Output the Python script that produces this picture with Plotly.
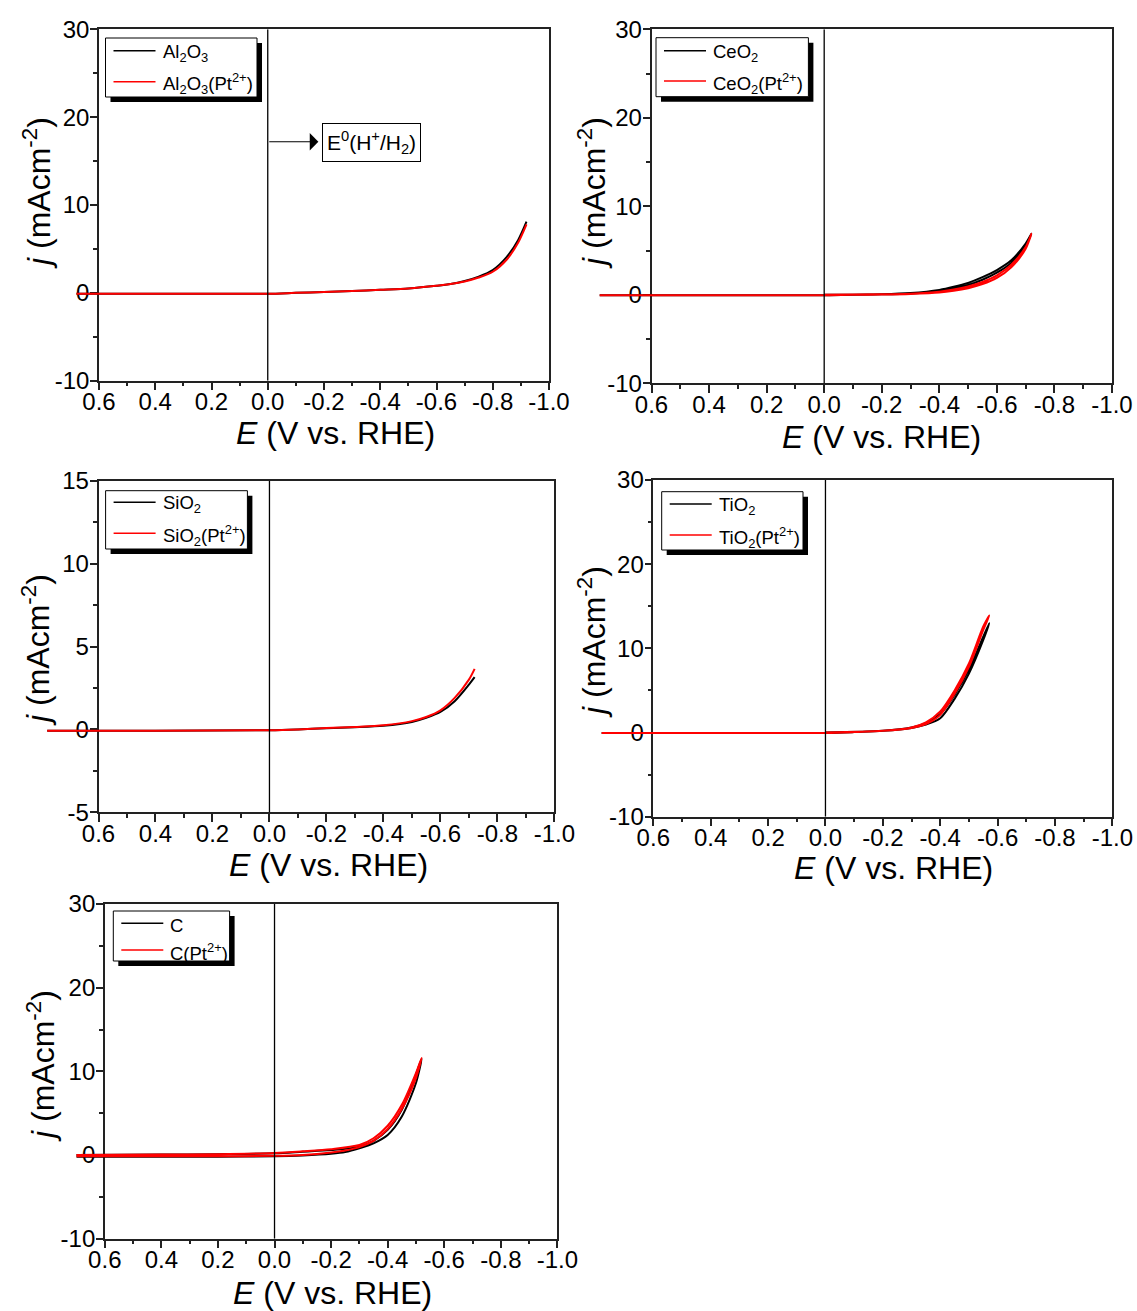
import numpy as np
import plotly.graph_objects as go

W, H = 1137, 1311
FONT = "Liberation Sans, Arial, sans-serif"

# ---------------- data ----------------
X_TICKS = [0.6, 0.4, 0.2, 0.0, -0.2, -0.4, -0.6, -0.8, -1.0]
X_TICK_TEXT = ["0.6", "0.4", "0.2", "0.0", "-0.2", "-0.4", "-0.6", "-0.8", "-1.0"]
Y_TICKS_30 = [-10, 0, 10, 20, 30]
Y_TICK_TEXT_30 = ["-10", "0", "10", "20", "30"]
Y_TICKS_15 = [-5, 0, 5, 10, 15]
Y_TICK_TEXT_15 = ["-5", "0", "5", "10", "15"]

# Al2O3
AL2O3_E = [0.68, 0.4, 0.2, 0.0, -0.1, -0.2, -0.3, -0.4, -0.5, -0.6, -0.65, -0.7, -0.75, -0.8, -0.85, -0.89, -0.92]
AL2O3_J = [-0.1, -0.1, -0.1, -0.1, 0.0, 0.1, 0.2, 0.35, 0.5, 0.8, 1.0, 1.35, 1.85, 2.6, 4.1, 6.0, 8.1]
AL2O3_PT_J = [-0.1, -0.1, -0.1, -0.1, 0.0, 0.1, 0.2, 0.35, 0.5, 0.8, 1.0, 1.3, 1.75, 2.4, 3.8, 5.7, 7.8]

# CeO2 (forward + return sweep)
CEO2_E = [0.78, 0.4, 0.0, -0.1, -0.2, -0.3, -0.4, -0.45, -0.5, -0.55, -0.6, -0.65, -0.7, -0.72,
          -0.7, -0.65, -0.6, -0.55, -0.5, -0.45, -0.4, -0.3, -0.2, 0.0]
CEO2_J = [-0.05, -0.05, -0.05, 0.0, 0.05, 0.15, 0.4, 0.7, 1.1, 1.7, 2.5, 3.6, 5.6, 6.9,
          5.8, 3.9, 2.8, 2.0, 1.35, 0.9, 0.55, 0.2, 0.07, 0.0]
CEO2_PT_J = [-0.05, -0.05, -0.05, 0.0, 0.03, 0.1, 0.25, 0.45, 0.75, 1.2, 1.9, 3.1, 5.2, 6.9,
             5.4, 3.4, 2.2, 1.45, 0.95, 0.6, 0.35, 0.13, 0.05, 0.0]

# SiO2
SIO2_E = [0.78, 0.4, 0.0, -0.1, -0.2, -0.3, -0.4, -0.5, -0.55, -0.6, -0.65, -0.7, -0.72]
SIO2_J = [-0.08, -0.08, -0.05, 0.0, 0.07, 0.13, 0.22, 0.45, 0.7, 1.05, 1.7, 2.7, 3.15]
SIO2_PT_J = [-0.08, -0.08, -0.05, 0.0, 0.08, 0.15, 0.25, 0.5, 0.75, 1.15, 1.9, 3.0, 3.65]

# TiO2 (forward + return sweep)
TIO2_E = [0.78, 0.4, 0.0, -0.1, -0.2, -0.3, -0.35, -0.4, -0.45, -0.5, -0.55, -0.571,
          -0.55, -0.5, -0.45, -0.4, -0.35, -0.3, -0.2, 0.0]
TIO2_J = [-0.05, -0.05, -0.05, 0.05, 0.2, 0.55, 0.95, 1.7, 4.0, 7.0, 11.0, 13.0,
          11.4, 7.5, 4.5, 2.2, 1.1, 0.6, 0.2, 0.0]
TIO2_PT_J = [-0.05, -0.05, -0.05, 0.05, 0.2, 0.55, 1.0, 2.1, 4.6, 7.8, 12.2, 13.9,
             12.6, 8.2, 5.0, 2.5, 1.2, 0.6, 0.2, 0.0]

# C (forward + return sweep)
C_E = [0.7, 0.4, 0.2, 0.0, -0.1, -0.2, -0.25, -0.3, -0.35, -0.4, -0.45, -0.5, -0.52,
       -0.5, -0.45, -0.4, -0.35, -0.3, -0.2, -0.1, 0.0, 0.2, 0.4, 0.7]
C_J = [-0.2, -0.2, -0.2, -0.15, -0.05, 0.15, 0.35, 0.8, 1.4, 2.4, 4.6, 8.6, 11.5,
       9.6, 5.4, 3.0, 1.7, 1.0, 0.6, 0.4, 0.2, 0.1, 0.05, 0.0]
C_PT_J = [-0.15, -0.15, -0.15, -0.1, 0.0, 0.3, 0.55, 0.95, 1.7, 3.1, 5.5, 9.2, 11.6,
          9.8, 6.0, 3.5, 2.0, 1.2, 0.7, 0.45, 0.25, 0.1, 0.05, 0.0]

NAMES = [
    ("Al<sub>2</sub>O<sub>3</sub>", "Al<sub>2</sub>O<sub>3</sub>(Pt<sup>2+</sup>)"),
    ("CeO<sub>2</sub>", "CeO<sub>2</sub>(Pt<sup>2+</sup>)"),
    ("SiO<sub>2</sub>", "SiO<sub>2</sub>(Pt<sup>2+</sup>)"),
    ("TiO<sub>2</sub>", "TiO<sub>2</sub>(Pt<sup>2+</sup>)"),
    ("C", "C(Pt<sup>2+</sup>)"),
]
SERIES = [
    (AL2O3_E, AL2O3_J, AL2O3_PT_J),
    (CEO2_E, CEO2_J, CEO2_PT_J),
    (SIO2_E, SIO2_J, SIO2_PT_J),
    (TIO2_E, TIO2_J, TIO2_PT_J),
    (C_E, C_J, C_PT_J),
]
YTICKS = [
    (Y_TICKS_30, Y_TICK_TEXT_30),
    (Y_TICKS_30, Y_TICK_TEXT_30),
    (Y_TICKS_15, Y_TICK_TEXT_15),
    (Y_TICKS_30, Y_TICK_TEXT_30),
    (Y_TICKS_30, Y_TICK_TEXT_30),
]
X_TITLE = "<i>E</i> (V vs. RHE)"
Y_TITLE = "<i>j</i> (mAcm<sup>-2</sup>)"
E0_LABEL = "E<sup>0</sup>(H<sup>+</sup>/H<sub>2</sub>)"

# ---------------- layout geometry (pixels) ----------------
BOX = [  # left, right, top, bottom
    (99, 549, 29.3, 380.7),
    (651.5, 1112, 29.3, 383.3),
    (98.5, 554.4, 480.7, 812.3),
    (653.3, 1112.4, 480, 816.7),
    (104.8, 557.4, 904, 1238.7),
]
LEG = [  # legend box left, right, top, bottom
    (105.5, 257, 38, 97),
    (656, 808.4, 37.7, 96.7),
    (105.6, 247.4, 490.7, 549),
    (661.7, 803, 491.7, 550),
    (113.3, 229.6, 911, 961),
]
LEG_ROWS = [(12.7, 43.7), (13, 43.3), (11.6, 42.6), (12.3, 43.3), (12.3, 39)]
XTITLE_POS = [(335, 433), (882, 437), (328, 865), (893, 868), (332, 1293)]
YTITLE_POS = [(37, 193), (592, 193), (36, 650), (592, 642), (41, 1066)]
EXT = 60  # px the data layer extends left of the axis

AX_COLOR = "#222222"
X_MIN, X_MAX = 0.6, -1.0


def fx(p):
    return p / W


def fy(p):
    return 1 - p / H


fig = go.Figure()
layout = dict(
    width=W, height=H, margin=dict(l=0, r=0, t=0, b=0),
    paper_bgcolor="white", plot_bgcolor="rgba(0,0,0,0)",
    font=dict(family=FONT, color="black"),
    showlegend=False,
)
shapes = []
annotations = []

for i in range(5):
    n = i + 1
    d = n + 5
    left, right, top, bottom = BOX[i]
    ppu = (right - left) / (X_MIN - X_MAX)
    yt, ytt = YTICKS[i]
    yr = [yt[0], yt[-1]]
    ystep = yt[1] - yt[0]

    xs = "" if n == 1 else str(n)
    ds = str(d)

    # visible axes
    layout["xaxis" + xs] = dict(
        domain=[fx(left), fx(right)], range=[X_MIN, X_MAX], anchor="y" + xs,
        tickmode="array", tickvals=X_TICKS, ticktext=X_TICK_TEXT,
        ticks="outside", ticklen=8, tickwidth=1.5, tickcolor=AX_COLOR,
        ticklabelstandoff=-9,
        minor=dict(tickvals=list(np.round(np.arange(-0.9, 0.6, 0.2), 2)), ticks="outside",
                   ticklen=4, tickwidth=1.5, tickcolor=AX_COLOR),
        showline=True, linecolor=AX_COLOR, linewidth=1.5, mirror=True,
        showgrid=False, zeroline=False,
        tickfont=dict(size=24, family=FONT, color="black"),
        automargin=False,
    )
    layout["yaxis" + xs] = dict(
        domain=[fy(bottom), fy(top)], range=yr, anchor="x" + xs,
        tickmode="array", tickvals=yt, ticktext=ytt,
        ticks="outside", ticklen=7, tickwidth=1.5, tickcolor=AX_COLOR,
        ticklabelstandoff=-4,
        minor=dict(tickvals=[v + ystep / 2 for v in yt[:-1]], ticks="outside",
                   ticklen=4, tickwidth=1.5, tickcolor=AX_COLOR),
        showline=True, linecolor=AX_COLOR, linewidth=1.5, mirror=True,
        showgrid=False, zeroline=False,
        tickfont=dict(size=24, family=FONT, color="black"),
        automargin=False,
    )
    # data layer axes (same scale, extended left so curves run past the frame)
    layout["xaxis" + ds] = dict(
        domain=[fx(left - EXT), fx(right)], range=[X_MIN + EXT / ppu, X_MAX],
        anchor="y" + ds, visible=False, showgrid=False, zeroline=False,
    )
    layout["yaxis" + ds] = dict(
        domain=[fy(bottom), fy(top)], range=yr, anchor="x" + ds,
        visible=False, showgrid=False, zeroline=False,
    )

    E, J0, J1 = SERIES[i]
    for J, col, nm in ((J0, "black", NAMES[i][0]), (J1, "#ff0000", NAMES[i][1])):
        fig.add_trace(go.Scatter(
            x=E, y=J, mode="lines", name=nm,
            line=dict(color=col, width=2, shape="spline", smoothing=0.8),
            xaxis="x" + ds, yaxis="y" + ds, showlegend=False,
        ))

    # vertical reference line at E = 0
    shapes.append(dict(type="line", xref="x" + xs, yref="y" + xs, x0=0, x1=0, y0=yr[0], y1=yr[1],
                       line=dict(color="black", width=1.3), layer="above"))

    # axis titles
    tx, ty = XTITLE_POS[i]
    annotations.append(dict(xref="paper", yref="paper", x=fx(tx), y=fy(ty), xanchor="center",
                            yanchor="middle", text=X_TITLE, showarrow=False,
                            font=dict(size=32, family=FONT, color="black")))
    tx, ty = YTITLE_POS[i]
    annotations.append(dict(xref="paper", yref="paper", x=fx(tx), y=fy(ty), xanchor="center",
                            yanchor="middle", text=Y_TITLE, showarrow=False, textangle=-90,
                            font=dict(size=32, family=FONT, color="black")))

    # legend (framed, with drop shadow)
    lL, lR, lT, lB = LEG[i]
    shapes.append(dict(type="rect", xref="paper", yref="paper",
                       x0=fx(lL + 5), x1=fx(lR + 5), y0=fy(lB + 5), y1=fy(lT + 5),
                       fillcolor="black", line=dict(width=0), layer="above"))
    shapes.append(dict(type="rect", xref="paper", yref="paper",
                       x0=fx(lL), x1=fx(lR), y0=fy(lB), y1=fy(lT),
                       fillcolor="white", line=dict(color="black", width=1), layer="above"))
    for k, (col, nm) in enumerate((("black", NAMES[i][0]), ("#ff0000", NAMES[i][1]))):
        ly = lT + LEG_ROWS[i][k]
        shapes.append(dict(type="line", xref="paper", yref="paper",
                           x0=fx(lL + 8), x1=fx(lL + 50), y0=fy(ly), y1=fy(ly),
                           line=dict(color=col, width=1.5), layer="above"))
        annotations.append(dict(xref="paper", yref="paper", x=fx(lL + 55), y=fy(ly + 2),
                                xanchor="left", yanchor="middle", text=nm, showarrow=False,
                                font=dict(size=18.5, family=FONT, color="black")))

# E0 annotation in first panel
annotations.append(dict(
    xref="x", yref="y", x=-0.368, y=17.1,
    text=E0_LABEL, showarrow=False,
    font=dict(size=21, family=FONT, color="black"),
    bordercolor="black", borderwidth=1, borderpad=4, bgcolor="white",
))
annotations.append(dict(
    xref="x", yref="y", axref="x", ayref="y",
    x=-0.18, y=17.2, ax=0, ay=17.2, text="", showarrow=True,
    arrowhead=1, arrowsize=2.4, arrowwidth=1.2, arrowcolor="black",
))

layout["shapes"] = shapes
layout["annotations"] = annotations
fig.update_layout(**layout)
fig.write_html("out.html")
